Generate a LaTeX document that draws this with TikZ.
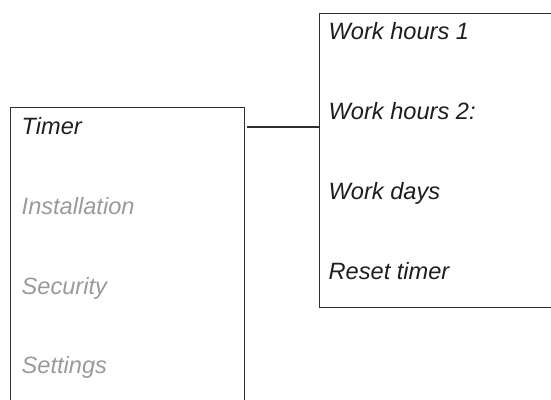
\documentclass[tikz,border=0pt]{standalone}
\usepackage{fontspec}
\setmainfont{Liberation Sans}
\definecolor{linec}{HTML}{2E2E2E}
\definecolor{txtdark}{HTML}{1E1E1E}
\definecolor{txtgray}{HTML}{9A9A9A}
\begin{document}
\begin{tikzpicture}[x=1pt,y=-1pt,
  panel/.style={draw=linec,line width=1.2pt,inner sep=0pt,anchor=north west},
  item/.style={anchor=base west,inner sep=0pt,font=\fontsize{23.6}{28}\selectfont\itshape},
  active/.style={item,text=txtdark},
  inactive/.style={item,text=txtgray}]
\useasboundingbox (0,0) rectangle (551,399);
\node[panel,minimum width=234pt,minimum height=320pt] (menu) at (10,107) {};
\node[panel,minimum width=260pt,minimum height=294pt] (sub) at (318.5,13) {};
\node[active] (timer) at (21.5,134) {Timer};
\node[inactive] (inst) at (21.5,214) {Installation};
\node[inactive] (sec) at (21.5,294) {Security};
\node[inactive] (set) at (21.5,373) {Settings};
\node[active] (wh1) at (328.5,39) {Work hours 1};
\node[active] (wh2) at (328.5,119) {Work hours 2:};
\node[active] (wd) at (328.5,199) {Work days};
\node[active] (rt) at (328.5,279) {Reset timer};
\coordinate (c1) at (247,127);
\draw[draw=linec,line width=1.2pt] (c1) -- (c1 -| sub.west);
\end{tikzpicture}
\end{document}
